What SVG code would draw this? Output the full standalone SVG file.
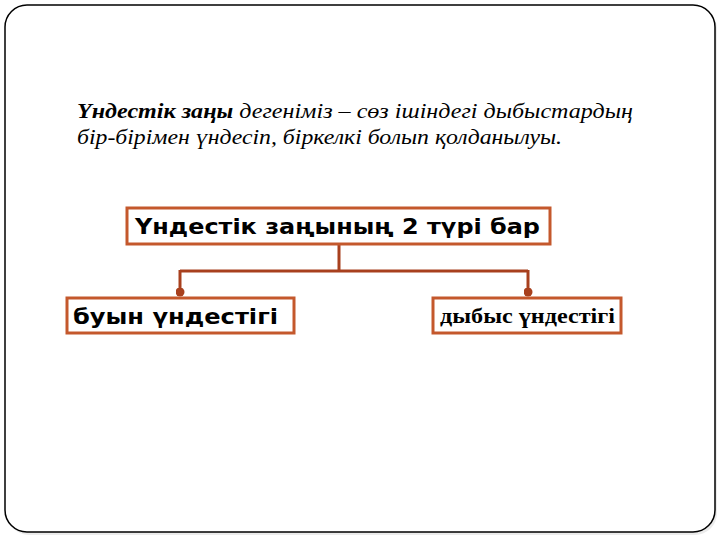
<svg xmlns="http://www.w3.org/2000/svg" width="720" height="540" viewBox="0 0 720 540">
<style>
.frame{fill:#fff;stroke:#000;stroke-width:1.5}
.box{fill:#fff;stroke:#C4582C;stroke-width:3}
.conn{fill:none;stroke:#A8401E;stroke-width:3}
.sans{font-family:"DejaVu Sans","Liberation Sans",sans-serif;font-weight:bold;font-size:21px;fill:#000}
.serif{font-family:"Liberation Serif","DejaVu Serif",serif;font-size:21px;fill:#000}
</style>
<defs>
<marker id="dot" viewBox="0 0 8 8" refX="4" refY="4" markerWidth="3" markerHeight="3" markerUnits="strokeWidth" orient="auto">
<circle cx="4" cy="4" r="4" fill="#A8401E"/>
</marker>
</defs>
<rect x="7" y="7" width="710" height="528" rx="22" fill="#ddd" opacity="0.6"/>
<rect class="frame" x="5" y="5" width="710" height="527" rx="22"/>
<g id="paragraph">
<text class="serif" x="77" y="118" font-style="italic" textLength="556" lengthAdjust="spacingAndGlyphs"><tspan font-weight="bold">Үндестік заңы</tspan> дегеніміз – сөз ішіндегі дыбыстардың</text>
<text class="serif" x="77" y="144" font-style="italic" textLength="485" lengthAdjust="spacingAndGlyphs">бір-бірімен үндесіп, біркелкі болып қолданылуы.</text>
</g>
<g id="connectors">
<path class="conn" d="M339,244 V271 M180,271 H528"/>
<path class="conn" d="M180,270 V292" marker-end="url(#dot)"/>
<path class="conn" d="M528,270 V292" marker-end="url(#dot)"/>
</g>
<g id="root">
<rect class="box" x="127" y="208" width="423" height="36"/>
<text class="sans" x="135" y="234" textLength="405" lengthAdjust="spacingAndGlyphs">Үндестік заңының 2 түрі бар</text>
</g>
<g id="left">
<rect class="box" x="67" y="298" width="227" height="35"/>
<text class="sans" x="73" y="324" textLength="205" lengthAdjust="spacingAndGlyphs">буын үндестігі</text>
</g>
<g id="right">
<rect class="box" x="433" y="298" width="188" height="35"/>
<text class="serif" x="440" y="323" font-weight="bold" font-size="19" textLength="175" lengthAdjust="spacingAndGlyphs">дыбыс үндестігі</text>
</g>
</svg>
